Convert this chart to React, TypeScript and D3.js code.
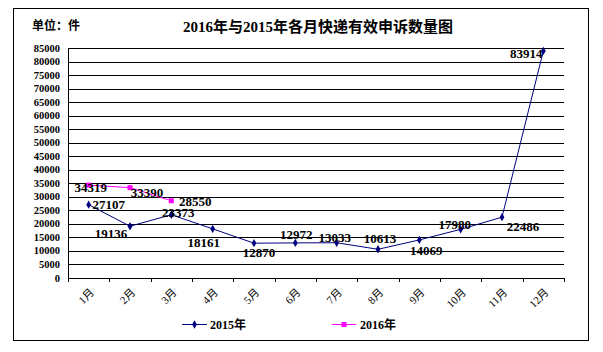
import React from 'react';
import * as d3 from 'd3';

// chart data
const months = ['1月', '2月', '3月', '4月', '5月', '6月', '7月', '8月', '9月', '10月', '11月', '12月'];
const values2015 = [27107, 19136, 23373, 18161, 12870, 12972, 13033, 10613, 14069, 17980, 22486, 83914];
const values2016 = [34319, 33390, 28550];
const yTicks = d3.range(0, 85001, 5000);

// label offsets (centre of label relative to its point)
const offsets2015 = [[20, 0], [-19, 7], [7, -2], [-9, 14], [5, 9], [1, -8], [-2, -5], [2, -11], [7, 11], [-6, -5], [21, 9], [-17, 3]];
const offsets2016 = [[2, 2], [17, 5], [24, 1]];

const W = 603;
const H = 352;
const margin = { top: 48, right: 39, bottom: 74, left: 68 };
const serif = '"Liberation Serif", "Noto Sans CJK SC", serif';

const App = () => {
  const x = d3.scaleBand().domain(months).range([margin.left, W - margin.right]);
  const y = d3.scaleLinear().domain([0, 85000]).range([H - margin.bottom, margin.top]);
  const cx = (i: number) => (x(months[i]) as number) + x.bandwidth() / 2;

  const line = d3.line<number>().x((_, i) => cx(i)).y(d => y(d));
  const diamond = d3.symbol().type(d3.symbolDiamond).size(20)();

  return (
    <svg width={W} height={H} style={{ position: 'absolute', left: 0, top: 0, background: '#fff' }}>
      <rect x={13.5} y={8.5} width={575} height={332} fill="#fff" stroke="#000" strokeWidth={1} />
      <text x={32} y={30} fontFamily={serif} fontSize={12} fontWeight="bold">单位：件</text>
      <text x={318} y={32} textAnchor="middle" fontFamily={serif} fontSize={15} fontWeight="bold">
        2016年与2015年各月快递有效申诉数量图
      </text>

      {/* grid lines and y axis labels */}
      {yTicks.map(t => (
        <g key={t}>
          <line x1={margin.left} x2={W - margin.right} y1={Math.round(y(t)) + 0.5} y2={Math.round(y(t)) + 0.5} stroke="#000" />
          <text x={60} y={y(t) + 3.5} textAnchor="end" fontFamily={serif} fontSize={10.5} fontWeight="bold">{t}</text>
        </g>
      ))}
      <line x1={margin.left + 0.5} x2={margin.left + 0.5} y1={y(85000)} y2={y(0)} stroke="#000" />

      {/* x axis ticks and rotated labels */}
      {d3.range(months.length + 1).map(i => {
        const tx = Math.round(margin.left + i * x.step()) + 0.5;
        return <line key={i} x1={tx} x2={tx} y1={y(0)} y2={y(0) + 4} stroke="#000" />;
      })}
      {months.map((m, i) => (
        <text key={m} transform={`translate(${cx(i) + 6},${y(0) + 15}) rotate(-45)`} textAnchor="end"
          fontFamily={serif} fontSize={11}>{m}</text>
      ))}

      {/* 2015 series */}
      <path d={line(values2015) as string} fill="none" stroke="#000080" strokeWidth={1} />
      {values2015.map((v, i) => (
        <path key={i} d={diamond as string} transform={`translate(${cx(i)},${y(v)})`} fill="#000080" />
      ))}

      {/* 2016 series */}
      <path d={line(values2016) as string} fill="none" stroke="#ff00ff" strokeWidth={1} />
      {values2016.map((v, i) => (
        <rect key={i} x={cx(i) - 2.5} y={y(v) - 2.5} width={5} height={5} fill="#ff00ff" />
      ))}

      {/* data labels */}
      {values2015.map((v, i) => (
        <text key={i} x={cx(i) + offsets2015[i][0]} y={y(v) + offsets2015[i][1] + 4.5} textAnchor="middle"
          fontFamily={serif} fontSize={13} fontWeight="bold">{v}</text>
      ))}
      {values2016.map((v, i) => (
        <text key={i} x={cx(i) + offsets2016[i][0]} y={y(v) + offsets2016[i][1] + 4.5} textAnchor="middle"
          fontFamily={serif} fontSize={13} fontWeight="bold">{v}</text>
      ))}

      {/* legend */}
      <line x1={182} x2={207} y1={324.5} y2={324.5} stroke="#000080" />
      <path d={diamond as string} transform="translate(194.5,324.5)" fill="#000080" />
      <text x={210} y={329} fontFamily={serif} fontSize={12} fontWeight="bold">2015年</text>
      <line x1={332} x2={356} y1={324.5} y2={324.5} stroke="#ff00ff" />
      <rect x={341.5} y={322} width={5} height={5} fill="#ff00ff" />
      <text x={360} y={329} fontFamily={serif} fontSize={12} fontWeight="bold">2016年</text>
    </svg>
  );
};

export default App;
